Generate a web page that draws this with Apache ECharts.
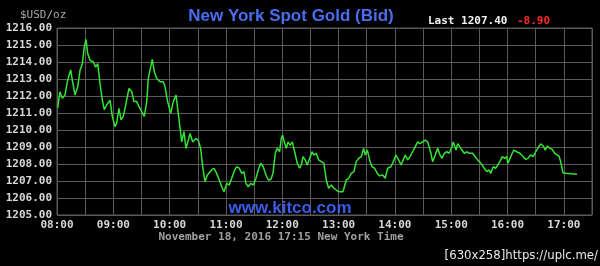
<!DOCTYPE html>
<html><head><meta charset="utf-8">
<script src="https://cdn.jsdelivr.net/npm/echarts@6/dist/echarts.min.js"></script>
<style>html,body{margin:0;padding:0;background:#000}#c{width:600px;height:266px}</style>
</head><body><div id="c"></div>
<script>
// minutes since midnight (New York time)
const times = [480.7,483.2,485.6,488.5,491.4,494.6,496.3,499.2,502.1,504.5,
507.0,509.1,510.9,512.7,515.2,518.7,521.2,523.4,525.8,528.3,
530.4,532.9,536.5,538.9,541.8,543.6,546.0,548.2,550.6,553.2,
556.7,559.6,562.0,564.9,567.4,570.2,573.0,575.6,577.3,579.8,
581.5,583.7,586.2,589.7,593.2,595.1,597.5,601.1,603.9,606.8,
609.2,611.8,612.8,615.3,617.4,619.9,621.7,624.6,628.1,630.5,
633.1,635.2,637.7,640.1,642.2,644.8,647.3,650.1,652.9,655.5,
657.9,660.8,663.5,666.1,668.6,671.4,674.2,676.8,679.2,681.3,
683.8,686.3,689.1,692.0,694.4,697.0,699.8,702.6,705.1,708.0,
710.1,712.6,714.7,717.2,718.9,720.4,722.6,724.3,726.1,728.5,
730.7,733.2,736.0,738.5,740.3,742.1,744.5,746.6,749.2,751.7,
753.8,756.2,758.8,761.6,764.4,766.9,769.4,772.2,775.1,777.5,
780.1,782.2,784.7,786.5,788.2,790.8,793.5,796.4,798.8,801.4,
804.2,806.7,808.4,810.6,813.1,815.6,818.4,821.2,823.6,827.0,
829.7,832.3,835.8,838.3,841.1,844.0,846.5,848.9,851.0,853.6,
856.1,858.9,861.7,864.3,866.7,869.6,872.3,874.9,876.6,878.4,
880.2,883.0,885.6,888.0,890.1,892.6,895.2,897.9,900.8,902.2,
905.1,906.9,908.6,911.4,913.9,916.4,919.2,922.8,925.6,928.2,
931.7,935.2,937.8,940.2,942.0,944.8,947.3,949.8,952.7,954.4,
956.9,959.1,960.4,962.6,965.0,966.8,969.7,973.2,976.8,979.3,
981.8,984.6,987.4,990.0,992.4,995.3,998.1,1000.2,1002.3,1005.2,
1007.6,1010.2,1012.3,1014.8,1016.6,1019.0,1021.9,1034.0];
const prices = [1211.30,1212.25,1211.86,1212.06,1212.94,1213.53,1212.94,1212.06,1212.55,1213.50,
1213.90,1214.90,1215.33,1214.50,1214.10,1214.00,1213.70,1213.90,1212.75,1211.76,
1211.20,1211.47,1211.76,1210.80,1210.20,1210.40,1211.27,1210.60,1210.80,1211.47,
1212.45,1212.25,1211.67,1211.67,1211.37,1211.08,1210.80,1211.67,1213.04,1213.70,
1214.16,1213.43,1213.04,1212.84,1212.84,1212.55,1211.76,1210.98,1211.67,1212.06,
1210.98,1209.80,1209.30,1209.90,1208.92,1209.40,1209.80,1209.30,1209.50,1209.40,
1208.90,1207.84,1206.96,1207.35,1207.25,1207.65,1207.75,1207.45,1207.06,1206.66,
1206.37,1206.86,1206.76,1207.16,1207.55,1207.84,1207.75,1207.45,1207.55,1206.86,
1206.66,1206.86,1206.76,1207.16,1207.65,1208.04,1207.84,1207.35,1207.06,1207.10,
1207.45,1208.63,1208.92,1208.72,1209.50,1209.70,1209.20,1208.92,1209.30,1209.10,
1209.30,1208.72,1208.04,1207.75,1207.94,1208.43,1208.24,1207.94,1208.33,1208.72,
1208.53,1208.63,1208.24,1208.14,1208.04,1207.06,1206.57,1206.76,1206.57,1206.47,
1206.37,1206.27,1206.37,1206.47,1207.06,1207.16,1207.45,1207.55,1208.14,1208.33,
1208.43,1208.92,1208.53,1208.82,1208.24,1207.84,1207.75,1207.45,1207.30,1207.35,
1207.16,1207.75,1207.84,1208.14,1208.53,1208.24,1207.94,1208.24,1208.53,1208.24,
1208.43,1208.72,1209.02,1209.30,1209.20,1209.30,1209.40,1209.30,1209.30,1208.63,
1208.14,1208.53,1208.92,1208.53,1208.33,1208.63,1208.72,1208.63,1209.02,1209.30,
1208.82,1209.20,1209.30,1208.82,1208.63,1208.72,1208.63,1208.63,1208.43,1208.24,
1208.04,1207.75,1207.55,1207.65,1207.45,1207.84,1207.75,1207.94,1208.24,1208.43,
1208.33,1208.43,1208.04,1208.33,1208.63,1208.82,1208.72,1208.63,1208.43,1208.27,
1208.33,1208.53,1208.43,1208.72,1208.92,1209.18,1209.06,1208.82,1209.06,1208.92,
1208.86,1208.63,1208.53,1208.47,1208.14,1207.49,1207.45,1207.40];
const xTickLabels = ['08:00','09:00','10:00','11:00','12:00','13:00','14:00','15:00','16:00','17:00'];
const yMin = 1205, yMax = 1216;
const xStart = 480, xEnd = 1050;
const lastPrice = '1207.40', change = '-8.90';

const chart = echarts.init(document.getElementById('c'), null, {renderer:'canvas'});
const grey = '#5a5a5a';
const mono = '"DejaVu Sans Mono", monospace';
chart.setOption({
  backgroundColor: '#000',
  animation: false,
  grid: {left: 57, right: 8, top: 28, bottom: 51, show: true, borderColor: grey, borderWidth: 1},
  xAxis: {
    type: 'value', min: xStart, max: xEnd, interval: 30,
    axisLine: {show: false}, axisTick: {show: false},
    splitLine: {show: true, lineStyle: {color: grey, width: 1}},
    axisLabel: {
      color: '#d8d8d8', fontFamily: mono, fontWeight: 'bold', fontSize: 11, margin: 5,
      showMinLabel: true, showMaxLabel: true,
      formatter: v => ((v - xStart) % 60 === 0 ? (xTickLabels[(v - xStart) / 60] || '') : '')
    }
  },
  yAxis: {
    type: 'value', min: yMin, max: yMax, interval: 1,
    axisLine: {show: false}, axisTick: {show: false},
    splitLine: {show: true, lineStyle: {color: grey, width: 1}},
    axisLabel: {color: '#d8d8d8', fontFamily: mono, fontWeight: 'bold', fontSize: 11, margin: 5,
      formatter: v => v.toFixed(2)}
  },
  series: [{
    type: 'line', data: times.map((t, i) => [t, prices[i]]),
    showSymbol: false, lineStyle: {color: '#33e433', width: 1.5}, z: 5
  }],
  graphic: [
    {type: 'text', z: 10, style: {x: 20, y: 15, text: '$USD/oz', fill: '#a8a8a8', font: 'normal 11px ' + mono, align: 'left', verticalAlign: 'middle'}},
    {type: 'text', z: 10, style: {x: 291, y: 16, text: 'New York Spot Gold (Bid)', fill: '#4a6cf0', font: 'bold 17px "Liberation Sans", Arial, sans-serif', align: 'center', verticalAlign: 'middle'}},
    {type: 'text', z: 10, style: {x: 428, y: 21, text: 'Last ' + lastPrice, fill: '#f2f2f2', font: 'bold 11px ' + mono, align: 'left', verticalAlign: 'middle'}},
    {type: 'text', z: 10, style: {x: 517, y: 21, text: change, fill: '#ff2a2a', font: 'bold 11px ' + mono, align: 'left', verticalAlign: 'middle'}},
    {type: 'text', z: 10, style: {x: 290, y: 208, text: 'www.kitco.com', fill: '#3a5ce8', font: 'bold 17px "Liberation Sans", Arial, sans-serif', align: 'center', verticalAlign: 'middle'}},
    {type: 'text', z: 10, style: {x: 281, y: 237, text: 'November 18, 2016 17:15 New York Time', fill: '#a0a0a0', font: 'bold 11px ' + mono, align: 'center', verticalAlign: 'middle'}},
    {type: 'text', z: 10, style: {x: 598, y: 256, text: '[630x258]https://uplc.me/', fill: '#e8e8e8', font: 'normal 13px "Liberation Sans Narrow", "DejaVu Sans Condensed", sans-serif', align: 'right', verticalAlign: 'middle'}}
  ]
});
</script></body></html>
